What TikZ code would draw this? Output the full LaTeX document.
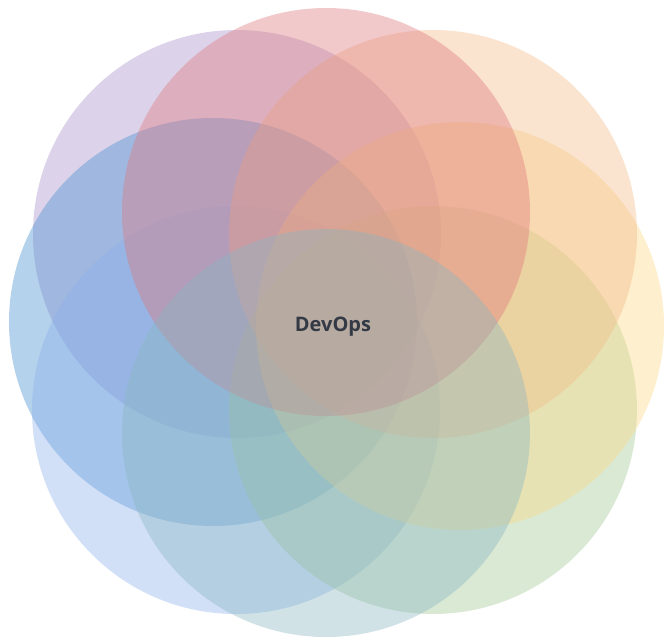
\documentclass[tikz,border=0pt]{standalone}
\usepackage{fontspec}
\setmainfont{Open Sans}
\definecolor{cpink}{RGB}{222,120,125}
\definecolor{cpurple}{RGB}{167,145,202}
\definecolor{corange}{RGB}{242,185,135}
\definecolor{cblue}{RGB}{70,142,207}
\definecolor{cyellow}{RGB}{252,217,132}
\definecolor{clblue}{RGB}{140,177,235}
\definecolor{cgreen}{RGB}{162,200,147}
\definecolor{cteal}{RGB}{137,182,192}
\definecolor{ctext}{RGB}{52,58,69}
\begin{document}
\begin{tikzpicture}[x=1pt,y=-1pt,
  petal/.style={circle, inner sep=0pt, minimum size=408pt, fill opacity=0.4, draw=none}]
\useasboundingbox (0,0) rectangle (665,638);
\node[petal, fill=cpurple] (purple) at (237,234) {};
\node[petal, fill=cblue]   (blue)   at (213,322) {};
\node[petal, fill=clblue]  (lblue)  at (236,410) {};
\node[petal, fill=cgreen]  (green)  at (433,410) {};
\node[petal, fill=cyellow] (yellow) at (460,326) {};
\node[petal, fill=corange] (orange) at (433,234) {};
\node[petal, fill=cpink]   (pink)   at (326,212) {};
\node[petal, fill=cteal]   (teal)   at (326,433) {};
\node[text=ctext, font=\bfseries\fontsize{20}{24}\selectfont] (label) at (333,327) {DevOps};
\end{tikzpicture}
\end{document}
